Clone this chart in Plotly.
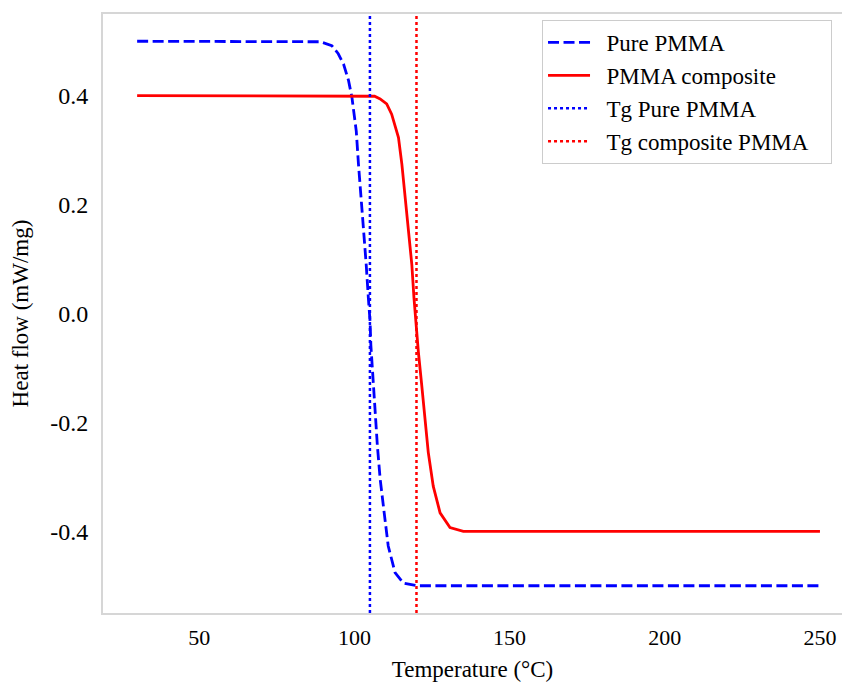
import plotly.graph_objects as go

# ---- data ----
pure_temp = [30, 50, 70, 85, 89, 92.7, 94.8, 96.5, 98.1, 99.2, 99.9, 100.6, 101.3, 102.2, 102.9,
             103.8, 104.5, 105.05, 105.3, 105.9, 106.7, 107.4, 108.3, 109.6, 110.9, 113.1, 115.8,
             120.1, 130, 160, 200, 250]
pure_flow = [0.5, 0.5, 0.5, 0.5, 0.499, 0.492, 0.477, 0.458, 0.428, 0.397, 0.367, 0.335, 0.275, 0.212, 0.151,
             0.09, 0.028, -0.015, -0.058, -0.12, -0.181, -0.243, -0.304, -0.366, -0.427, -0.476, -0.495,
             -0.5, -0.5, -0.5, -0.5, -0.5]

comp_temp = [30, 60, 90, 105, 106.5, 108.3, 110.4, 112.0, 114.2, 115.3, 116.3, 117.4, 118.5, 119.2,
             119.5, 120.6, 121.7, 122.8, 123.8, 125.4, 127.6, 130.8, 135.1, 140.5, 170, 200, 250]
comp_flow = [0.4, 0.4, 0.4, 0.4, 0.399, 0.394, 0.385, 0.366, 0.323, 0.274, 0.212, 0.151, 0.09, 0.028,
             0.003, -0.07, -0.132, -0.194, -0.255, -0.317, -0.366, -0.393, -0.4, -0.4, -0.4, -0.4, -0.4]

tg_pure = 105
tg_comp = 120

series_names = ["Pure PMMA", "PMMA composite", "Tg Pure PMMA", "Tg composite PMMA"]

x_range = [19, 257.1]
y_range = [-0.55, 0.55]
y_ticks = [-0.4, -0.2, 0.0, 0.2, 0.4]
y_ticklabels = ["-0.4", "-0.2", "0.0", "0.2", "0.4"]
x_ticks = [50, 100, 150, 200, 250]

FONT = "Liberation Serif, Times New Roman, serif"
FRAME = "#d6d6d6"
PAD = "\u00a0\u00a0"

fig = go.Figure()
fig.add_trace(go.Scatter(x=pure_temp, y=pure_flow, mode="lines", name=PAD + series_names[0],
                         line=dict(color="blue", width=2.8, dash="11px,4.5px")))
fig.add_trace(go.Scatter(x=comp_temp, y=comp_flow, mode="lines", name=PAD + series_names[1],
                         line=dict(color="red", width=2.8)))
fig.add_trace(go.Scatter(x=[tg_pure, tg_pure], y=y_range, mode="lines", name=PAD + series_names[2],
                         line=dict(color="blue", width=2.5, dash="dot")))
fig.add_trace(go.Scatter(x=[tg_comp, tg_comp], y=y_range, mode="lines",
                         name=PAD + series_names[3] + PAD + "\u00a0",
                         line=dict(color="red", width=2.5, dash="dot")))

fig.update_layout(
    width=842, height=684,
    margin=dict(l=103, r=0, t=14, b=71),
    plot_bgcolor="white", paper_bgcolor="white",
    font=dict(family=FONT, size=22, color="black"),
    showlegend=True,
    legend=dict(x=0.9865, y=0.99, xanchor="right", yanchor="top",
                bgcolor="white", bordercolor="#cccccc", borderwidth=1,
                font=dict(family=FONT, size=23, color="black"),
                itemwidth=42, tracegroupgap=0),
)
fig.update_xaxes(range=x_range, tickvals=x_ticks, showgrid=False, zeroline=False,
                 showline=True, linecolor=FRAME, linewidth=2, mirror=True,
                 ticks="outside", ticklen=4, tickcolor="rgba(0,0,0,0)",
                 tickfont=dict(family=FONT, size=22),
                 title=dict(text="Temperature (°C)", font=dict(family=FONT, size=23), standoff=11))
fig.update_yaxes(range=y_range, tickvals=y_ticks, ticktext=y_ticklabels, showgrid=False, zeroline=False,
                 showline=True, linecolor=FRAME, linewidth=2, mirror=False,
                 ticks="outside", ticklen=8, tickcolor="rgba(0,0,0,0)",
                 tickfont=dict(family=FONT, size=24),
                 title=dict(text="Heat flow (mW/mg)", font=dict(family=FONT, size=23), standoff=15))

fig.write_html("out.html", config={"displayModeBar": False},
               post_script="document.body.style.margin='0';")
